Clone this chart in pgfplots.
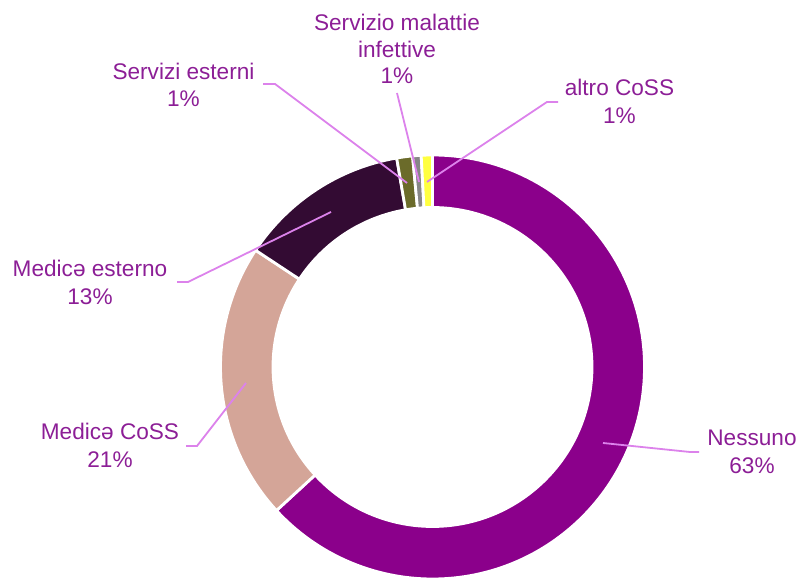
\documentclass[border=0pt]{standalone}
\usepackage{pgfplots}
\pgfplotsset{compat=1.18}
\usepackage{pgfplotstable}
\usepackage{fontspec}
\setmainfont{Liberation Sans}

\definecolor{cNes}{RGB}{139,0,139}
\definecolor{cCoss}{RGB}{212,165,152}
\definecolor{cEst}{RGB}{51,11,51}
\definecolor{cServ}{RGB}{107,107,42}
\definecolor{cMal}{RGB}{135,135,135}
\definecolor{cAltro}{RGB}{255,255,64}
\definecolor{labcol}{RGB}{140,30,150}
\definecolor{leadcol}{RGB}{220,130,235}

\tikzset{
  lab/.style={text=labcol, anchor=base, inner sep=0pt,
    font=\fontsize{22.6}{26}\selectfont},
  leader/.style={color=leadcol, line width=1.8pt},
}

% slice values (percent), clockwise from 12 o'clock
\pgfplotstableread{
id value
0 63.1
1 21.1
2 13.0
3 1.2
4 0.65
5 0.85
}\piedata

\def\cx{432.5}
\def\cy{212}
\def\Ro{212}
\def\Ri{159.5}

\newcommand\slice[2]{%
  \edef\temp{\noexpand\filldraw[fill=#2,draw=white,line width=2.8pt]
    (axis cs:{\cx+\Ro*cos(\csname sa#1\endcsname)},{\cy+\Ro*sin(\csname sa#1\endcsname)})
    arc[start angle=\csname sa#1\endcsname, end angle=\csname ea#1\endcsname, radius=\Ro pt]
    -- (axis cs:{\cx+\Ri*cos(\csname ea#1\endcsname)},{\cy+\Ri*sin(\csname ea#1\endcsname)})
    arc[start angle=\csname ea#1\endcsname, end angle=\csname sa#1\endcsname, radius=\Ri pt]
    -- cycle;}%
  \temp}

\begin{document}
\begin{tikzpicture}
\xdef\total{0}
\foreach \i in {0,...,5}{%
  \pgfplotstablegetelem{\i}{value}\of\piedata
  \pgfmathsetmacro\t{\total+\pgfplotsretval}%
  \xdef\total{\t}}
\xdef\cum{0}
\foreach \i in {0,...,5}{%
  \pgfplotstablegetelem{\i}{value}\of\piedata
  \pgfmathsetmacro\s{90-\cum/\total*360}%
  \pgfmathsetmacro\c{\cum+\pgfplotsretval}%
  \xdef\cum{\c}%
  \pgfmathsetmacro\e{90-\cum/\total*360}%
  \expandafter\xdef\csname sa\i\endcsname{\s}%
  \expandafter\xdef\csname ea\i\endcsname{\e}}
\begin{axis}[
  x=1pt, y=1pt, xmin=0, xmax=800, ymin=0, ymax=579,
  scale only axis, hide axis, clip=false,
]
\path (axis cs:0,0) rectangle (axis cs:800,579);
\slice{0}{cNes}
\slice{1}{cCoss}
\slice{2}{cEst}
\slice{3}{cServ}
\slice{4}{cMal}
\slice{5}{cAltro}

\addplot[leader, no marks] coordinates {(263,495) (275,495) (407,396)};
\addplot[leader, no marks] coordinates {(397,486) (419,397)};
\addplot[leader, no marks] coordinates {(558,477) (547,477) (427,397)};
\addplot[leader, no marks] coordinates {(177,297) (188,297) (331,367)};
\addplot[leader, no marks] coordinates {(186,133) (197,133) (246,196)};
\addplot[leader, no marks] coordinates {(603,136) (690,127) (699,127)};

\node[lab] at (axis cs:397,548) {Servizio malattie};
\node[lab] at (axis cs:397,521) {infettive};
\node[lab] at (axis cs:397,495) {1\%};
\node[lab] at (axis cs:183.5,499) {Servizi esterni};
\node[lab] at (axis cs:183.5,472) {1\%};
\node[lab] at (axis cs:619.5,483) {altro CoSS};
\node[lab] at (axis cs:619.5,455) {1\%};
\node[lab] at (axis cs:90,302) {Medicə esterno};
\node[lab] at (axis cs:90,274) {13\%};
\node[lab] at (axis cs:110,139) {Medicə CoSS};
\node[lab] at (axis cs:110,111) {21\%};
\node[lab] at (axis cs:752,133) {Nessuno};
\node[lab] at (axis cs:752,105) {63\%};
\end{axis}
\end{tikzpicture}
\end{document}
